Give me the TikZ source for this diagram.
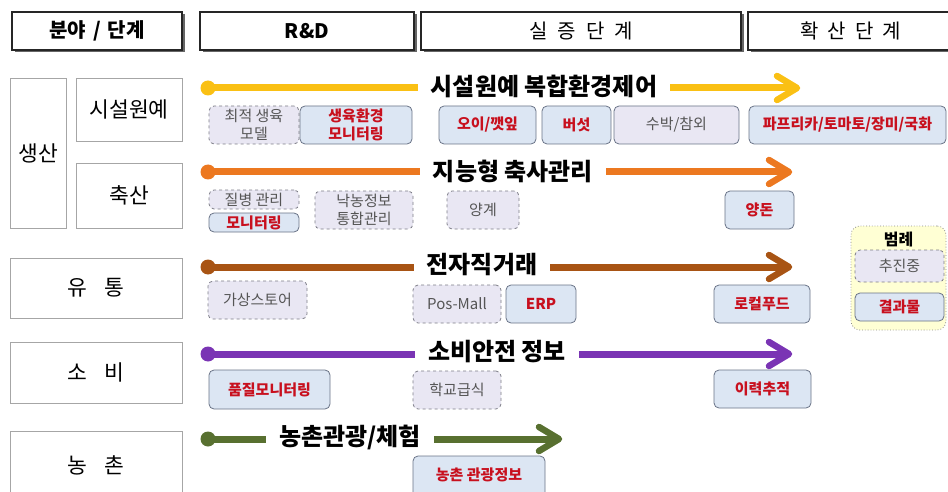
\documentclass[tikz,border=0pt]{standalone}
\usepackage{fontspec}
\setmainfont{Noto Sans CJK KR}
\usetikzlibrary{calc}
\definecolor{cyel}{RGB}{250,192,20}
\definecolor{cora}{RGB}{236,120,32}
\definecolor{cbro}{RGB}{168,84,20}
\definecolor{cpur}{RGB}{122,52,180}
\definecolor{cgrn}{RGB}{88,112,48}
\definecolor{afill}{RGB}{233,231,243}
\definecolor{aline}{RGB}{125,125,135}
\definecolor{bfill}{RGB}{220,230,243}
\definecolor{bline}{RGB}{105,115,135}
\definecolor{redtxt}{RGB}{200,16,30}
\definecolor{greytxt}{RGB}{85,85,85}
\definecolor{legfill}{RGB}{255,255,212}
\tikzset{
  box/.style={rectangle, anchor=north west, outer sep=0pt, inner sep=1pt, align=center},
  hdr/.style={box, draw=black!85, line width=1.3pt, fill=white, font=\fontsize{20}{22}\selectfont\bfseries},
  rowbox/.style={box, draw=black!35, line width=0.9pt, fill=white, font=\fontsize{21.5}{24}\selectfont},
  abox/.style={box, rounded corners=5pt, draw=aline, dashed, line width=0.8pt, fill=afill, text=greytxt, font=\fontsize{15}{18}\selectfont},
  cbox/.style={box, rounded corners=5pt, draw=bline, line width=0.8pt, fill=afill, text=greytxt, font=\fontsize{15}{18}\selectfont},
  bbox/.style={box, rounded corners=5pt, draw=bline, line width=0.8pt, fill=bfill, text=redtxt, font=\fontsize{15}{18}\selectfont\bfseries},
  ttl/.style={inner xsep=13pt, inner ysep=0pt, font=\fontsize{24}{26}\selectfont\bfseries},
  ln/.style={line width=7pt},
  chev/.style={line width=6.5pt, line join=round, line cap=round},
  dot/.style={circle, inner sep=0pt, minimum size=15pt},
}
\begin{document}
\begin{tikzpicture}[x=1pt,y=-1pt]
\useasboundingbox (0,0) rectangle (948,492);

% header shadows and boxes
\foreach \xa/\xb in {12/182,200/414,421/741,748/953}{
  \fill[black!60] (\xa+2.5,14.5) rectangle (\xb+2.5,52.5);
}
\node[hdr, minimum width=170pt, minimum height=38pt] (h0) at (12,12) {분야\hspace{7pt}/\hspace{7pt}단계};
\node[hdr, minimum width=214pt, minimum height=38pt] (h1) at (200,12) {R\&D};
\node[hdr, minimum width=320pt, minimum height=38pt, font=\fontsize{20}{22}\selectfont] (h2) at (421,12) {실\hspace{10pt}증\hspace{10pt}단\hspace{10pt}계};
\node[hdr, minimum width=205pt, minimum height=38pt, font=\fontsize{20}{22}\selectfont] (h3) at (748,12) {확\hspace{9pt}산\hspace{9pt}단\hspace{9pt}계};

% row boxes
\node[rowbox, minimum width=56pt, minimum height=150pt] (r0) at (10,78) {생산};
\node[rowbox, minimum width=106pt, minimum height=63pt] (r1) at (76,78) {시설원예};
\node[rowbox, minimum width=106pt, minimum height=65pt] (r2) at (76,163) {축산};
\node[rowbox, minimum width=172pt, minimum height=60pt] (r3) at (10,258) {유\hspace{18pt}통};
\node[rowbox, minimum width=172pt, minimum height=61pt] (r4) at (10,342) {소\hspace{18pt}비};
\node[rowbox, minimum width=172pt, minimum height=70pt] (r5) at (10,431) {\raisebox{3pt}{농\hspace{18pt}촌}};

% ---- row 1
\node[dot, fill=cyel] (s1) at (208,88) {};
\node[ttl] (t1) at (544,86) {시설원예 복합환경제어};
\coordinate (e1) at (797,88);
\draw[ln, cyel] (s1.center) -- (t1.west |- s1);
\draw[ln, cyel] (t1.east |- s1) -- ($(e1)+(-4,0)$);
\draw[chev, cyel] ($(e1)+(-20,-12)$) -- (e1) -- ($(e1)+(-20,12)$);

% ---- row 2
\node[dot, fill=cora] (s2) at (208,172) {};
\node[ttl] (t2) at (513,171) {지능형 축사관리};
\coordinate (e2) at (789,172);
\draw[ln, cora] (s2.center) -- (t2.west |- s2);
\draw[ln, cora] (t2.east |- s2) -- ($(e2)+(-4,0)$);
\draw[chev, cora] ($(e2)+(-20,-12)$) -- (e2) -- ($(e2)+(-20,12)$);

% ---- row 3
\node[dot, fill=cbro] (s3) at (208,267) {};
\node[ttl] (t3) at (482,265) {전자직거래};
\coordinate (e3) at (789,267);
\draw[ln, cbro] (s3.center) -- (t3.west |- s3);
\draw[ln, cbro] (t3.east |- s3) -- ($(e3)+(-4,0)$);
\draw[chev, cbro] ($(e3)+(-20,-12)$) -- (e3) -- ($(e3)+(-20,12)$);

% ---- row 4
\node[dot, fill=cpur] (s4) at (208,354) {};
\node[ttl] (t4) at (497,352) {소비안전 정보};
\coordinate (e4) at (789,354);
\draw[ln, cpur] (s4.center) -- (t4.west |- s4);
\draw[ln, cpur] (t4.east |- s4) -- ($(e4)+(-4,0)$);
\draw[chev, cpur] ($(e4)+(-20,-12)$) -- (e4) -- ($(e4)+(-20,12)$);

% ---- row 5
\node[dot, fill=cgrn] (s5) at (208,439) {};
\node[ttl] (t5) at (350,437) {농촌관광/체험};
\coordinate (e5) at (559,439);
\draw[ln, cgrn] (s5.center) -- (t5.west |- s5);
\draw[ln, cgrn] (t5.east |- s5) -- ($(e5)+(-4,0)$);
\draw[chev, cgrn] ($(e5)+(-20,-12)$) -- (e5) -- ($(e5)+(-20,12)$);

% ---- boxes row 1
\node[abox, minimum width=90pt, minimum height=38pt] (b11) at (209,106) {최적 생육\\모델};
\node[bbox, minimum width=112pt, minimum height=38pt] (b12) at (300,106) {생육환경\\모니터링};
\node[bbox, minimum width=97pt, minimum height=38pt] (b13) at (439,106) {오이/깻잎};
\node[bbox, minimum width=69pt, minimum height=38pt] (b14) at (542,106) {버섯};
\node[cbox, minimum width=125pt, minimum height=38pt] (b15) at (614,106) {수박/참외};
\node[bbox, minimum width=197pt, minimum height=38pt] (b16) at (749,106) {파프리카/토마토/장미/국화};

% ---- boxes row 2
\node[abox, minimum width=90pt, minimum height=19pt] (b21) at (209,190) {질병 관리};
\node[bbox, minimum width=90pt, minimum height=19pt] (b22) at (209,213) {모니터링};
\node[abox, minimum width=98pt, minimum height=38pt] (b23) at (315,191) {낙농정보\\통합관리};
\node[abox, minimum width=72pt, minimum height=38pt] (b24) at (447,191) {양계};
\node[bbox, minimum width=69pt, minimum height=38pt] (b25) at (725,191) {양돈};

% ---- boxes row 3
\node[abox, minimum width=99pt, minimum height=38pt] (b31) at (208,281) {가상스토어};
\node[abox, minimum width=88pt, minimum height=38pt] (b32) at (413,285) {Pos-Mall};
\node[bbox, minimum width=70pt, minimum height=38pt] (b33) at (506,285) {ERP};
\node[bbox, minimum width=96pt, minimum height=38pt] (b34) at (714,285) {로컬푸드};

% ---- boxes row 4
\node[bbox, minimum width=121pt, minimum height=39pt] (b41) at (209,370) {품질모니터링};
\node[abox, minimum width=88pt, minimum height=38pt] (b42) at (413,371) {학교급식};
\node[bbox, minimum width=97pt, minimum height=38pt] (b43) at (714,370) {이력추적};

% ---- boxes row 5
\node[bbox, minimum width=132pt, minimum height=46pt] (b51) at (413,456) {\raisebox{9pt}{농촌 관광정보}};

% ---- legend
\node[box, rounded corners=9pt, draw=black!45, dotted, line width=0.8pt, fill=legfill, minimum width=95pt, minimum height=104pt] (lg) at (851,226) {};
\node[font=\fontsize{16}{18}\selectfont\bfseries, inner sep=0pt] (lgt) at (898.5,239) {범례};
\node[abox, minimum width=89pt, minimum height=32pt] (lga) at (855,250) {추진중};
\node[bbox, minimum width=89pt, minimum height=28pt] (lgb) at (855,293) {결과물};
\end{tikzpicture}
\end{document}
